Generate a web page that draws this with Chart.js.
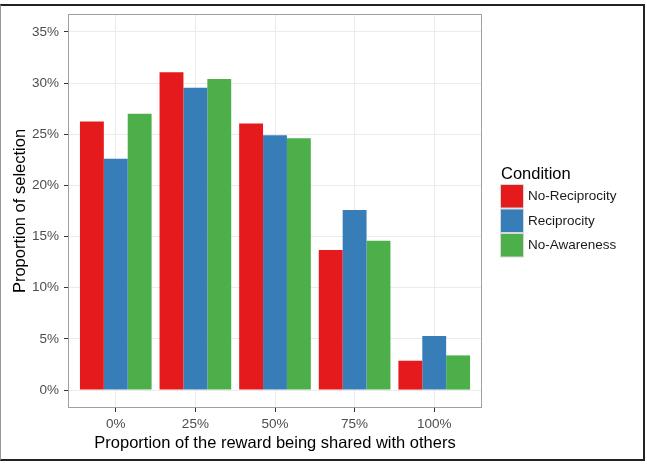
<!DOCTYPE html>
<html>
<head>
<meta charset="utf-8">
<script src="https://cdn.jsdelivr.net/npm/chart.js@4.4.1/dist/chart.umd.min.js"></script>
<style>
    html, body { margin: 0; padding: 0; background: #fff; }
    #wrap { position: relative; width: 647px; height: 464px; }
    #frame {
        position: absolute; left: 0; top: 4px; width: 645px; height: 457px;
        box-sizing: border-box; pointer-events: none;
        border-top: 2px solid #222; border-right: 2px solid #222;
        border-bottom: 2px solid #222; border-left: 1px solid #999;
    }
</style>
</head>
<body>
<div id="wrap">
    <canvas id="shareChart" width="647" height="464"></canvas>
    <div id="frame"></div>
</div>
<script>
// categories on the x axis
const shareLabels = ['0%', '25%', '50%', '75%', '100%'];
const shareX = [1, 2, 3, 4, 5];

// series (percent of selection)
const conditionNames = ['No-Reciprocity', 'Reciprocity', 'No-Awareness'];
const noReciprocity = [26.25, 31.05, 26.05, 13.7, 2.87];
const reciprocity = [22.6, 29.55, 24.9, 17.6, 5.28];
const noAwareness = [27.0, 30.4, 24.6, 14.6, 3.39];
const conditionColors = ['#E41A1C', '#377EB8', '#4DAF4A'];

// y tick values
const yTicks = [0, 5, 10, 15, 20, 25, 30, 35];

const FONT = '"Liberation Sans", Arial, Helvetica, sans-serif';

function toPoints(values) {
    return values.map((v, i) => ({ x: shareX[i], y: v }));
}

// grey panel border around the plot area (theme_bw look)
const panelBorder = {
    id: 'panelBorder',
    afterDraw(chart) {
        const a = chart.chartArea;
        const ctx = chart.ctx;
        ctx.save();
        ctx.strokeStyle = '#a0a0a0';
        ctx.lineWidth = 1;
        ctx.strokeRect(Math.round(a.left) + 0.5, Math.round(a.top) + 0.5,
            Math.round(a.right - a.left) - 1, Math.round(a.bottom - a.top) - 1);
        ctx.restore();
    }
};

// legend on the right, drawn like ggplot's
const sideLegend = {
    id: 'sideLegend',
    afterDraw(chart) {
        const ctx = chart.ctx;
        ctx.save();
        ctx.fillStyle = '#000';
        ctx.font = '16.5px ' + FONT;
        ctx.textBaseline = 'middle';
        ctx.textAlign = 'left';
        ctx.fillText('Condition', 501, 174);
        ctx.font = '13.5px ' + FONT;
        chart.data.datasets.forEach((ds, i) => {
            const y = 184 + i * 24.5;
            ctx.fillStyle = '#d9d9d9';
            ctx.fillRect(500, y, 24, 24.5);
            ctx.fillStyle = ds.backgroundColor;
            ctx.fillRect(501, y + 1, 22, 22.5);
            ctx.fillStyle = '#1a1a1a';
            ctx.fillText(ds.label, 528, y + 12.5);
        });
        ctx.restore();
    }
};

const ctx = document.getElementById('shareChart');
new Chart(ctx.getContext('2d'), {
    type: 'bar',
    data: {
        datasets: [
            { label: conditionNames[0], data: toPoints(noReciprocity), backgroundColor: conditionColors[0] },
            { label: conditionNames[1], data: toPoints(reciprocity), backgroundColor: conditionColors[1] },
            { label: conditionNames[2], data: toPoints(noAwareness), backgroundColor: conditionColors[2] }
        ]
    },
    options: {
        responsive: false,
        animation: false,
        events: [],
        layout: { padding: { top: 14, right: 165, bottom: 0, left: 0 } },
        datasets: {
            bar: { categoryPercentage: 0.9, barPercentage: 1.0, borderWidth: 0 }
        },
        plugins: {
            legend: { display: false },
            tooltip: { enabled: false }
        },
        scales: {
            x: {
                type: 'linear',
                min: 0.4,
                max: 5.6,
                offset: false,
                afterBuildTicks: scale => { scale.ticks = shareX.map(v => ({ value: v })); },
                afterFit: scale => { scale.height = 56; },
                ticks: {
                    autoSkip: false,
                    maxRotation: 0,
                    padding: 4,
                    color: '#4d4d4d',
                    font: { family: FONT, size: 13.5 },
                    callback: v => shareLabels[shareX.indexOf(v)]
                },
                grid: { offset: false, color: '#ebebeb', tickColor: '#333', tickLength: 4, lineWidth: 1 },
                border: { display: false },
                title: {
                    display: true,
                    text: 'Proportion of the reward being shared with others',
                    color: '#000',
                    font: { family: FONT, size: 16.5 },
                    padding: { top: 0, bottom: 11 }
                }
            },
            y: {
                min: -1.75,
                max: 36.75,
                afterBuildTicks: scale => { scale.ticks = yTicks.map(v => ({ value: v })); },
                afterFit: scale => { scale.width = 68; },
                ticks: {
                    padding: 5,
                    color: '#4d4d4d',
                    font: { family: FONT, size: 13.5 },
                    callback: v => v + '%'
                },
                grid: { color: '#ebebeb', tickColor: '#333', tickLength: 4, lineWidth: 1 },
                border: { display: false },
                title: {
                    display: true,
                    text: 'Proportion of selection',
                    color: '#000',
                    font: { family: FONT, size: 16.5 },
                    padding: { top: 11, bottom: 0 }
                }
            }
        }
    },
    plugins: [panelBorder, sideLegend]
});
</script>
</body>
</html>
